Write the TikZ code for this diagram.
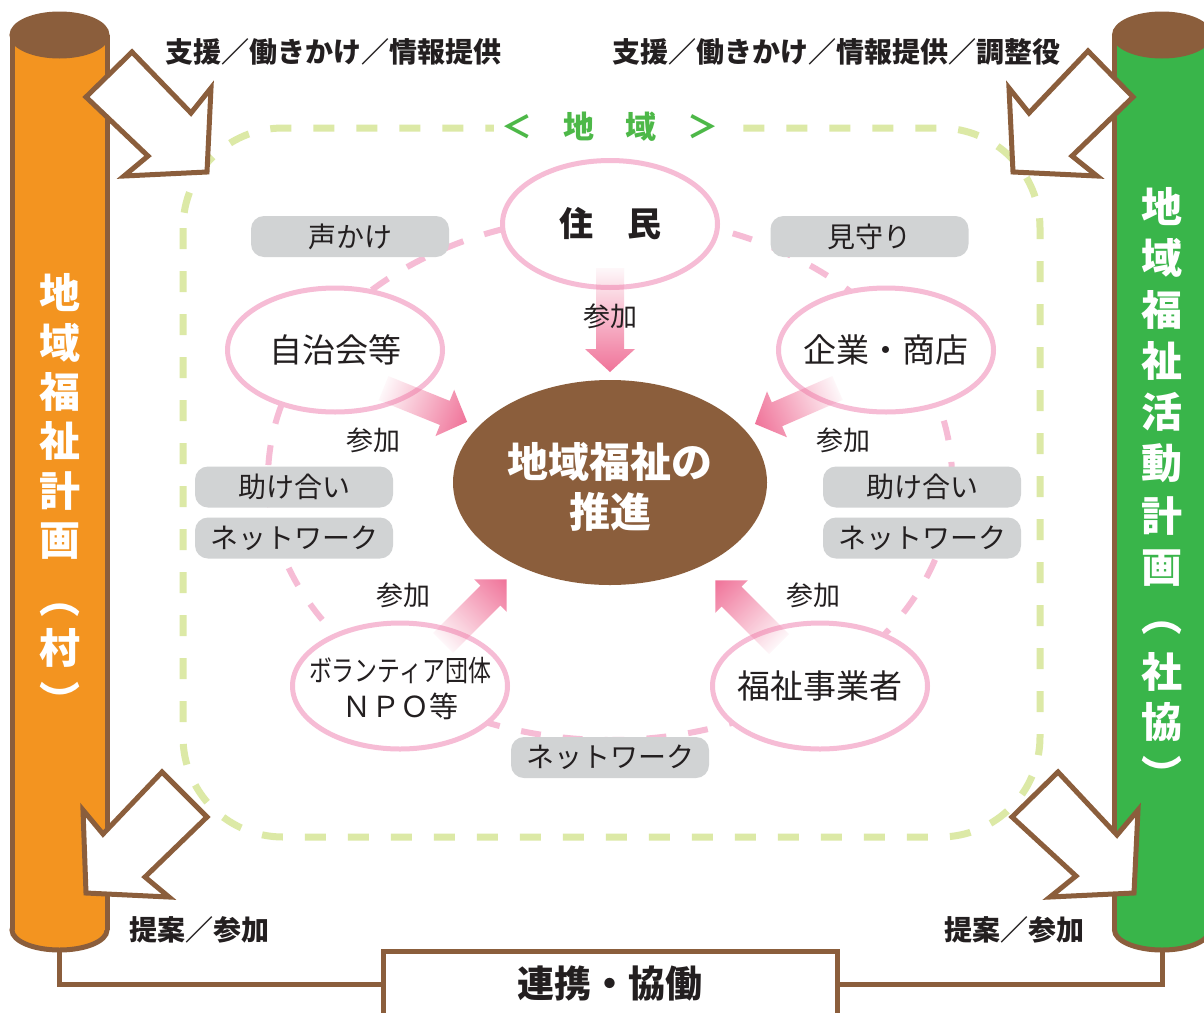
\documentclass[tikz,border=0pt]{standalone}
\usepackage{fontspec}
\usepackage{graphicx}
\setmainfont{Noto Sans CJK JP}
\usetikzlibrary{shapes.geometric,fadings}
\definecolor{brn}{HTML}{8B5E3C}
\definecolor{orng}{HTML}{F39420}
\definecolor{grn}{HTML}{39B54A}
\definecolor{lgrn}{HTML}{DCE9A6}
\definecolor{lblgrn}{HTML}{4DB848}
\definecolor{pnk}{HTML}{F6BCD5}
\definecolor{apink}{HTML}{F07399}
\definecolor{boxgray}{HTML}{D1D3D4}
\definecolor{ink}{HTML}{231F20}
\tikzfading[name=arrowfade, left color=transparent!95, right color=transparent!0]
\newcommand\sankaarrow[7]{%
\begin{scope}[transform canvas={shift={(#1,#2)},rotate=#3}]
\fill[apink,path fading=arrowfade] (0,-#6) -- (#4,-#6) -- (#4,-#7) -- ({#4+#5},0) -- (#4,#7) -- (#4,#6) -- (0,#6) -- cycle;
\end{scope}}
\begin{document}
\begin{tikzpicture}[x=1pt,y=-1pt,
  every node/.style={text=ink},
  hollow/.style={draw=brn, line width=5pt, fill=white, line join=miter},
  cylline/.style={draw=brn, line width=5pt},
  pinkell/.style={ellipse, draw=pnk, line width=5pt, fill=white, inner sep=0pt, minimum width=215pt, minimum height=124pt},
  graybox/.style={fill=boxgray, rounded corners=13pt, minimum width=198pt, minimum height=41pt, inner sep=0pt, font=\fontsize{28}{30}\selectfont},
  ntext/.style={font=\fontsize{33}{36}\selectfont},
  sanka/.style={font=\fontsize{27}{29}\selectfont},
  boldtxt/.style={font=\fontsize{28}{30}\selectfont\bfseries},
  cyltxt/.style={text=white, inner sep=0pt, font=\fontsize{41}{41}\selectfont\bfseries}]
\useasboundingbox (0,0) rectangle (1204,1012);
\fill[white] (0,0) rectangle (1204,1012);

% green dashed region
\draw[lgrn, line width=7pt, dash pattern=on 21pt off 22pt, rounded corners=100pt] (183,128) rectangle (1040,837);
\node[fill=white, text=lblgrn, inner xsep=8pt, inner ysep=2pt, font=\fontsize{31}{33}\selectfont\bfseries] (chiiki) at (610,127) {＜　地　域　＞};

% pink dashed ring
\draw[pnk, line width=6pt, dash pattern=on 20pt off 22pt] (610,478) ellipse (342 and 262);

% gray boxes
\node[graybox] (koe) at (350,236.5) {声かけ};
\node[graybox] (mima) at (869.5,236.5) {見守り};
\node[graybox] (tasL) at (294,487) {助け合い};
\node[graybox] (netL) at (294,538) {ネットワーク};
\node[graybox] (tasR) at (922,487) {助け合い};
\node[graybox] (netR) at (922,538) {ネットワーク};
\node[graybox] (netB) at (610,757.5) {ネットワーク};

% member ellipses
\node[pinkell, minimum height=127pt] (jumin) at (610,224) {};
\node[font=\fontsize{34}{36}\selectfont\bfseries] (juminT) at (jumin) {住　民};
\node[pinkell] (jichi) at (335,350) {};
\node[ntext] (jichiT) at (jichi) {自治会等};
\node[pinkell] (kigyo) at (886,350) {};
\node[ntext] (kigyoT) at (kigyo) {企業・商店};
\node[pinkell, minimum height=126pt] (vol) at (400,686) {};
\node[align=center, font=\fontsize{29}{36}\selectfont] (volT) at (400,688) {\scalebox{0.79}[1]{ボランティア団体}\\ＮＰＯ等};
\node[pinkell, minimum height=126pt] (fuku) at (820,686) {};
\node[ntext] (fukuT) at (fuku) {福祉事業者};

% center
\node[ellipse, fill=brn, minimum width=314pt, minimum height=205pt, inner sep=0pt] (center) at (610,482.5) {};
\node[align=center, text=white, font=\fontsize{41}{50}\selectfont\bfseries] (centerT) at (610,487) {地域福祉の\\推進};

% participation arrows
\sankaarrow{610}{268}{-90}{81}{23}{14}{25}
\sankaarrow{383.6}{388.2}{-22}{66}{24}{13}{25}
\sankaarrow{837.5}{388}{-156.5}{66}{24}{13}{25}
\sankaarrow{443}{643}{45}{67}{23}{14}{23}
\sankaarrow{779}{644}{135}{67}{23}{14}{23}

\node[sanka] (sankaA) at (610,316) {参加};
\node[sanka] (sankaB) at (373,440) {参加};
\node[sanka] (sankaC) at (843,440) {参加};
\node[sanka] (sankaD) at (403,595) {参加};
\node[sanka] (sankaE) at (813,595) {参加};

% left cylinder
\filldraw[fill=orng, draw=brn, line width=5pt] (59.5,930) ellipse (47.5 and 20);
\fill[orng] (12,35) rectangle (107,930);
\draw[cylline] (12,35) -- (12,930) (107,35) -- (107,930);
\filldraw[fill=brn, draw=brn, line width=5pt] (59.5,35) ellipse (47.5 and 21);
\coordinate (lcb) at (59.5,950);
\foreach \c/\y [count=\i] in {地/293, 域/343, 福/392, 祉/441, 計/491, 画/541, ︵/610, 村/648, ︶/699}
  \node[cyltxt] (lt\i) at (60,\y) {\c};

% right cylinder
\filldraw[fill=grn, draw=brn, line width=5pt] (1162,930) ellipse (47.5 and 20);
\fill[grn] (1114.5,35) rectangle (1209.5,930);
\draw[cylline] (1114.5,35) -- (1114.5,930) (1209.5,35) -- (1209.5,930);
\filldraw[fill=brn, draw=brn, line width=5pt] (1162,35) ellipse (47.5 and 21);
\coordinate (rcb) at (1162,950);
\foreach \c/\y [count=\i] in {地/207, 域/258, 福/310, 祉/361, 活/412, 動/463, 計/516, 画/568, ︵/628, 社/672, 協/722, ︶/773}
  \node[cyltxt] (rt\i) at (1162,\y) {\c};

% hollow arrows
\draw[hollow] (86,97) -- (132,52) -- (191,113) -- (211,88) -- (207,172) -- (124,176) -- (148,156) -- cycle;
\draw[hollow] (1133,97) -- (1088,51) -- (1029,113) -- (1009,88) -- (1013,172) -- (1097,176) -- (1072,156) -- cycle;
\draw[hollow] (162,772) -- (207,817) -- (145,877) -- (169,897) -- (86,893) -- (83,810) -- (103,834) -- cycle;
\draw[hollow] (1058,772) -- (1012,817) -- (1076,876) -- (1050,897) -- (1134,893) -- (1138,810) -- (1117,835) -- cycle;

% outer labels
\node[boldtxt] (supL) at (333,52) {支援／働きかけ／情報提供};
\node[boldtxt] (supR) at (836,52) {支援／働きかけ／情報提供／調整役};
\node[boldtxt] (propL) at (199,930) {提案／参加};
\node[boldtxt] (propR) at (1014,930) {提案／参加};

% bottom box
\node[draw=brn, line width=5pt, fill=white, minimum width=454pt, minimum height=66pt, inner sep=0pt] (renkei) at (610,984) {};
\node[font=\fontsize{37}{39}\selectfont\bfseries] (renkeiT) at (610,983) {連携・協働};
\draw[cylline] (lcb) |- (renkei.west);
\draw[cylline] (rcb) |- (renkei.east);
\end{tikzpicture}
\end{document}
